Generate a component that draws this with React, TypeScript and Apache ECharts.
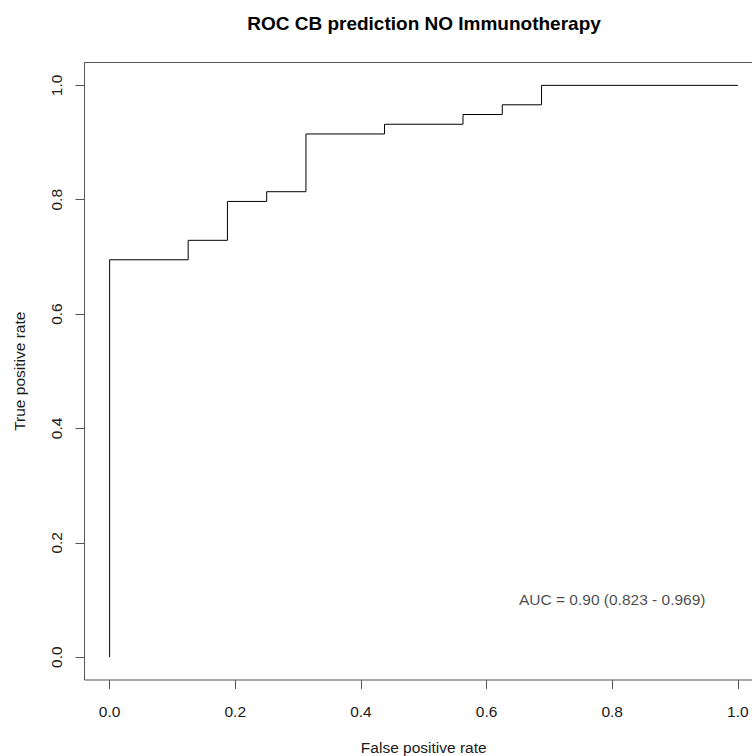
import React, { useEffect, useRef } from "react";
import * as echarts from "echarts";

const chartTitle = "ROC CB prediction NO Immunotherapy";
const xName = "False positive rate";
const yName = "True positive rate";
const aucText = "AUC = 0.90 (0.823 - 0.969)";
const aucPos = [0.8, 0.1];

// ROC points (false positive rate, true positive rate)
const fpr = [0, 0, 0.125, 0.1875, 0.25, 0.3125, 0.4375, 0.5625, 0.625, 0.6875, 1.0];
const tpr = [0, 0.695, 0.729, 0.797, 0.814, 0.915, 0.932, 0.949, 0.966, 1.0, 1.0];

const tickValues = [0, 0.2, 0.4, 0.6, 0.8, 1.0];

const FONT = "'Liberation Sans', Arial, sans-serif";

export default function App() {
  const ref = useRef<HTMLDivElement>(null);
  useEffect(() => {
    if (!ref.current) return;
    const chart = echarts.init(ref.current, null, { renderer: "svg" });
    const lineColor = "#555";
    const textColor = "#1a1a1a";
    chart.setOption({
      animation: false,
      backgroundColor: "#fff",
      title: {
        text: chartTitle,
        left: 419,
        top: 9,
        textAlign: "center",
        textStyle: { fontFamily: FONT, fontSize: 19, fontWeight: "bold", color: "#000" },
      },
      grid: {
        left: 84.5,
        right: 7,
        top: 62.5,
        bottom: 76,
        show: true,
        borderColor: lineColor,
        borderWidth: 1,
        containLabel: false,
        outerBoundsMode: "none",
      },
      xAxis: {
        type: "value",
        min: -0.04,
        max: 1.04,
        name: xName,
        nameLocation: "middle",
        nameGap: 59,
        nameTextStyle: { fontFamily: FONT, fontSize: 15.5, color: textColor },
        axisLine: { show: false, onZero: false },
        splitLine: { show: false },
        axisTick: { show: true, inside: false, length: 9, customValues: tickValues, lineStyle: { color: lineColor } },
        axisLabel: {
          customValues: tickValues,
          formatter: (v: number) => v.toFixed(1),
          margin: 23,
          fontFamily: FONT,
          fontSize: 15.5,
          color: textColor,
        },
      },
      yAxis: {
        type: "value",
        min: -0.04,
        max: 1.04,
        name: yName,
        nameLocation: "middle",
        nameGap: 57,
        nameTextStyle: { fontFamily: FONT, fontSize: 15.5, color: textColor },
        axisLine: { show: false, onZero: false },
        splitLine: { show: false },
        axisTick: { show: true, inside: false, length: 9, customValues: tickValues, lineStyle: { color: lineColor } },
        axisLabel: {
          customValues: tickValues,
          formatter: (v: number) => v.toFixed(1),
          rotate: 90,
          margin: 20,
          fontFamily: FONT,
          fontSize: 15.5,
          color: textColor,
        },
      },
      series: [
        {
          type: "line",
          step: "end",
          data: fpr.map((x, i) => [x, tpr[i]]),
          showSymbol: false,
          symbol: "none",
          lineStyle: { color: "#000", width: 1 },
          silent: true,
        },
        {
          type: "scatter",
          data: [aucPos],
          symbolSize: 0,
          silent: true,
          label: {
            show: true,
            position: "inside",
            formatter: aucText,
            fontFamily: FONT,
            fontSize: 15.5,
            color: textColor,
          },
        },
      ],
    });
    return () => chart.dispose();
  }, []);
  return (
    <div
      style={{ position: "absolute", left: 0, top: 0, width: 752, height: 756, overflow: "hidden", background: "#fff" }}
    >
      <div ref={ref} style={{ width: 770, height: 756 }} />
    </div>
  );
}
